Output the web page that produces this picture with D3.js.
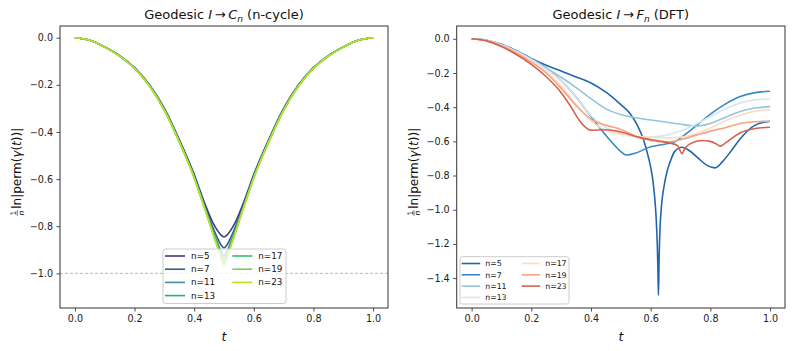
<!DOCTYPE html>
<html>
<head>
<meta charset="utf-8">
<script src="https://cdn.jsdelivr.net/npm/d3@7"></script>
<style>
  body { margin: 0; background: #fff; }
  svg { font-family: "DejaVu Sans", sans-serif; }
</style>
</head>
<body>
<svg id="chart" width="793" height="351"></svg>
<script>
// ---- data ----
const nLabels = ['n=5', 'n=7', 'n=11', 'n=13', 'n=17', 'n=19', 'n=23'];

const xTicks = [0, 0.2, 0.4, 0.6, 0.8, 1.0];
const cycleYTicks = [0, -0.2, -0.4, -0.6, -0.8, -1.0];
const dftYTicks = [0, -0.2, -0.4, -0.6, -0.8, -1.0, -1.2, -1.4];

// left panel: geodesic to the n-cycle
const cycleT = [0, 0.05, 0.1, 0.15, 0.2, 0.25, 0.3, 0.35, 0.4, 0.42, 0.44, 0.46, 0.48, 0.49, 0.5,
                0.51, 0.52, 0.54, 0.56, 0.58, 0.6, 0.65, 0.7, 0.75, 0.8, 0.85, 0.9, 0.95, 1.0];
const cycleN5  = [0, -0.011, -0.039, -0.076, -0.127, -0.2, -0.3, -0.432, -0.58, -0.65, -0.718, -0.778, -0.822, -0.838, -0.846,
                  -0.838, -0.822, -0.778, -0.718, -0.65, -0.58, -0.432, -0.3, -0.2, -0.127, -0.076, -0.039, -0.011, 0];
const cycleN7  = [0, -0.011, -0.039, -0.077, -0.128, -0.202, -0.303, -0.436, -0.586, -0.658, -0.73, -0.797, -0.855, -0.879, -0.892,
                  -0.879, -0.855, -0.797, -0.73, -0.658, -0.586, -0.436, -0.303, -0.202, -0.128, -0.077, -0.039, -0.011, 0];
const cycleN11 = [0, -0.011, -0.04, -0.077, -0.129, -0.203, -0.305, -0.439, -0.59, -0.662, -0.737, -0.81, -0.875, -0.906, -0.924,
                  -0.906, -0.875, -0.81, -0.737, -0.662, -0.59, -0.439, -0.305, -0.203, -0.129, -0.077, -0.04, -0.011, 0];
const cycleN13 = [0, -0.011, -0.04, -0.078, -0.129, -0.204, -0.306, -0.44, -0.592, -0.664, -0.739, -0.813, -0.882, -0.916, -0.936,
                  -0.916, -0.882, -0.813, -0.739, -0.664, -0.592, -0.44, -0.306, -0.204, -0.129, -0.078, -0.04, -0.011, 0];
const cycleN17 = [0, -0.011, -0.04, -0.078, -0.13, -0.204, -0.307, -0.441, -0.593, -0.666, -0.741, -0.817, -0.89, -0.928, -0.95,
                  -0.928, -0.89, -0.817, -0.741, -0.666, -0.593, -0.441, -0.307, -0.204, -0.13, -0.078, -0.04, -0.011, 0];
const cycleN19 = [0, -0.011, -0.04, -0.078, -0.13, -0.205, -0.308, -0.442, -0.594, -0.667, -0.742, -0.819, -0.894, -0.934, -0.958,
                  -0.934, -0.894, -0.819, -0.742, -0.667, -0.594, -0.442, -0.308, -0.205, -0.13, -0.078, -0.04, -0.011, 0];
const cycleN23 = [0, -0.011, -0.04, -0.078, -0.13, -0.205, -0.308, -0.442, -0.595, -0.668, -0.743, -0.82, -0.897, -0.94, -0.967,
                  -0.94, -0.897, -0.82, -0.743, -0.668, -0.595, -0.442, -0.308, -0.205, -0.13, -0.078, -0.04, -0.011, 0];
const cycleColors = ['#443a83', '#35608d', '#3f8f9f', '#27a98b', '#2fbf72', '#78d04f', '#bddf26'];

// right panel: geodesic to the DFT matrix
const dftT5 = [0, 0.05, 0.1, 0.15, 0.2, 0.25, 0.3, 0.35, 0.4, 0.45, 0.5, 0.53, 0.555, 0.576, 0.592, 0.605, 0.613, 0.618, 0.622, 0.624, 0.626,
               0.628, 0.631, 0.636, 0.645, 0.655, 0.665, 0.68, 0.705, 0.73, 0.76, 0.79, 0.816, 0.84, 0.87, 0.9, 0.95, 1.0];
const dftN5 = [0, -0.008, -0.032, -0.07, -0.115, -0.155, -0.188, -0.223, -0.258, -0.312, -0.385, -0.435, -0.505, -0.59, -0.69, -0.8, -0.92, -1.04, -1.2, -1.33, -1.5,
               -1.3, -1.12, -0.98, -0.86, -0.775, -0.72, -0.66, -0.634, -0.655, -0.7, -0.742, -0.755, -0.72, -0.655, -0.585, -0.505, -0.482];
const dftT7 = [0, 0.05, 0.1, 0.15, 0.2, 0.25, 0.3, 0.35, 0.4, 0.45, 0.48, 0.5, 0.52, 0.55, 0.6, 0.65, 0.68, 0.7, 0.75, 0.8, 0.85, 0.9, 0.95, 1.0];
const dftN7 = [0, -0.009, -0.035, -0.072, -0.118, -0.17, -0.245, -0.34, -0.455, -0.565, -0.625, -0.66, -0.68, -0.668, -0.632, -0.615, -0.603, -0.58, -0.512, -0.44, -0.382, -0.338, -0.315, -0.307];
const dftT = [0, 0.05, 0.1, 0.15, 0.2, 0.25, 0.3, 0.35, 0.4, 0.45, 0.5, 0.55, 0.6, 0.65, 0.7, 0.75, 0.8, 0.85, 0.9, 0.95, 1.0];
const dftN11 = [0, -0.009, -0.035, -0.072, -0.118, -0.17, -0.225, -0.285, -0.35, -0.41, -0.443, -0.462, -0.475, -0.487, -0.5, -0.51, -0.495, -0.46, -0.425, -0.405, -0.397];
const dftN13 = [0, -0.009, -0.036, -0.074, -0.122, -0.178, -0.245, -0.34, -0.45, -0.52, -0.557, -0.572, -0.575, -0.565, -0.54, -0.5, -0.455, -0.41, -0.375, -0.357, -0.352];
const dftN17 = [0, -0.01, -0.038, -0.078, -0.128, -0.19, -0.275, -0.385, -0.48, -0.535, -0.56, -0.57, -0.575, -0.58, -0.575, -0.555, -0.522, -0.48, -0.447, -0.423, -0.415];
const dftN19 = [0, -0.011, -0.04, -0.083, -0.137, -0.2, -0.29, -0.39, -0.47, -0.505, -0.53, -0.57, -0.595, -0.605, -0.59, -0.565, -0.54, -0.52, -0.495, -0.485, -0.482];
const dftT23 = [0, 0.05, 0.1, 0.15, 0.2, 0.25, 0.3, 0.33, 0.36, 0.38, 0.4, 0.45, 0.5, 0.565, 0.63, 0.67, 0.69, 0.705, 0.715, 0.735,
                0.77, 0.8, 0.82, 0.833, 0.85, 0.9, 0.95, 1.0];
const dftN23 = [0, -0.012, -0.045, -0.092, -0.15, -0.222, -0.315, -0.39, -0.475, -0.515, -0.535, -0.532, -0.545, -0.578, -0.598, -0.612, -0.625, -0.672, -0.64, -0.612,
                -0.595, -0.6, -0.615, -0.628, -0.61, -0.55, -0.525, -0.517];
const dftColors = ['#2166ac', '#3a89c4', '#92c5de', '#d4e6f1', '#fddbc7', '#f4a582', '#d6604d'];

const svg = d3.select('#chart');

function zip(ts, vs) { return ts.map((t, i) => ({ t, v: vs[i] })); }

function drawPanel(cfg) {
  const g = svg.append('g');
  const x = d3.scaleLinear().domain([-0.05, 1.05]).range([cfg.left, cfg.right]);
  const y = d3.scaleLinear().domain(cfg.yDomain).range([cfg.bottom, cfg.top]);

  // optional reference line
  if (cfg.hline !== undefined) {
    g.append('line')
      .attr('x1', cfg.left).attr('x2', cfg.right)
      .attr('y1', y(cfg.hline)).attr('y2', y(cfg.hline))
      .attr('stroke', '#a8a8a8').attr('stroke-width', 0.8)
      .attr('stroke-dasharray', '3,2');
  }

  // lines
  const line = d3.line().x(d => x(d.t)).y(d => y(d.v)).curve(d3.curveMonotoneX);
  cfg.series.forEach((s, i) => {
    g.append('path')
      .attr('d', line(zip(s.t, s.v)))
      .attr('fill', 'none')
      .attr('stroke', cfg.colors[i])
      .attr('stroke-width', 1.6)
      .attr('stroke-linejoin', 'round');
  });

  // axes
  const fmt = d3.format('.1f');
  const xAxis = g.append('g').attr('transform', `translate(0,${cfg.bottom})`)
    .call(d3.axisBottom(x).tickValues(xTicks).tickFormat(fmt).tickSize(3.5).tickPadding(3.5));
  const yAxis = g.append('g').attr('transform', `translate(${cfg.left},0)`)
    .call(d3.axisLeft(y).tickValues(cfg.yTicks).tickFormat(fmt).tickSize(3.5).tickPadding(3.5));
  [xAxis, yAxis].forEach(a => {
    a.select('.domain').remove();
    a.selectAll('line').attr('stroke', '#222').attr('stroke-width', 0.8);
    a.selectAll('text').attr('font-size', 9.6).attr('fill', '#222')
      .style('font-family', '"DejaVu Sans", sans-serif');
  });

  // frame
  g.append('rect')
    .attr('x', cfg.left).attr('y', cfg.top)
    .attr('width', cfg.right - cfg.left).attr('height', cfg.bottom - cfg.top)
    .attr('fill', 'none').attr('stroke', '#333').attr('stroke-width', 1);

  // title
  const cx = (cfg.left + cfg.right) / 2;
  const title = g.append('text').attr('x', cx).attr('y', 19)
    .attr('text-anchor', 'middle').attr('font-size', 13).attr('fill', '#111');
  title.append('tspan').text('Geodesic ');
  title.append('tspan').attr('font-style', 'italic').text('I');
  title.append('tspan').text('\u2009\u2192\u2009');
  title.append('tspan').attr('font-style', 'italic').text(cfg.target);
  title.append('tspan').attr('font-style', 'italic').attr('font-size', 9).attr('dy', 2.6).text('n');
  title.append('tspan').attr('dy', -2.6).text(' ' + cfg.suffix);

  // x label
  g.append('text').attr('x', cx).attr('y', 341)
    .attr('text-anchor', 'middle').attr('font-size', 12.5).attr('font-style', 'italic')
    .attr('fill', '#111').text('t');

  // y label: 1/n ln|perm(γ(t))|
  const cy = (cfg.top + cfg.bottom) / 2 + 5;
  const lab = g.append('g').attr('transform', `translate(${cfg.left - 39},${cy}) rotate(-90)`);
  const main = lab.append('text').attr('font-size', 12).attr('fill', '#111');
  main.append('tspan').text('ln|perm(');
  main.append('tspan').attr('font-style', 'italic').text('\u03b3');
  main.append('tspan').text('(');
  main.append('tspan').attr('font-style', 'italic').text('t');
  main.append('tspan').text('))|');
  const w = main.node().getComputedTextLength();
  const fracW = 6.5;
  const x0 = -(w + fracW + 1) / 2;
  main.attr('x', x0 + fracW + 1);
  const frac = lab.append('g').attr('transform', `translate(${x0 + fracW / 2},0)`);
  frac.append('text').attr('text-anchor', 'middle').attr('y', -5).attr('font-size', 7.5).text('1');
  frac.append('line').attr('x1', -2.8).attr('x2', 2.8).attr('y1', -3.7).attr('y2', -3.7)
    .attr('stroke', '#111').attr('stroke-width', 0.6);
  frac.append('text').attr('text-anchor', 'middle').attr('y', 2.6).attr('font-size', 7.5)
    .attr('font-style', 'italic').text('n');

  // legend
  const L = cfg.legend;
  const lg = g.append('g');
  lg.append('rect')
    .attr('x', L.x).attr('y', L.y).attr('width', L.w).attr('height', L.h)
    .attr('rx', 2.5).attr('fill', 'rgba(255,255,255,0.8)')
    .attr('stroke', '#cccccc').attr('stroke-width', 1);
  nLabels.forEach((name, i) => {
    const col = i < 4 ? 0 : 1;
    const row = i < 4 ? i : i - 4;
    const hx = L.colX[col];
    const ry = L.row0 + row * L.rowStep;
    lg.append('line')
      .attr('x1', hx).attr('x2', hx + L.handle)
      .attr('y1', ry).attr('y2', ry)
      .attr('stroke', cfg.colors[i]).attr('stroke-width', 1.6);
    lg.append('text')
      .attr('x', hx + L.handle + L.gap).attr('y', ry).attr('dy', '0.35em')
      .attr('font-size', L.font).attr('fill', '#111').text(name);
  });
}

drawPanel({
  left: 60, right: 388, top: 26, bottom: 308,
  yDomain: [-1.147, 0.0497],
  yTicks: cycleYTicks,
  hline: -1,
  target: 'C', suffix: '(n-cycle)',
  colors: cycleColors,
  series: [
    { t: cycleT, v: cycleN5 }, { t: cycleT, v: cycleN7 }, { t: cycleT, v: cycleN11 },
    { t: cycleT, v: cycleN13 }, { t: cycleT, v: cycleN17 }, { t: cycleT, v: cycleN19 },
    { t: cycleT, v: cycleN23 }
  ],
  legend: { x: 163, y: 249, w: 123, h: 54.5, row0: 256, rowStep: 13.2,
            colX: [165, 232.3], handle: 20, gap: 6, font: 8.8 }
});

drawPanel({
  left: 456.7, right: 785, top: 26, bottom: 308,
  yDomain: [-1.575, 0.075],
  yTicks: dftYTicks,
  target: 'F', suffix: '(DFT)',
  colors: dftColors,
  series: [
    { t: dftT5, v: dftN5 }, { t: dftT7, v: dftN7 }, { t: dftT, v: dftN11 },
    { t: dftT, v: dftN13 }, { t: dftT, v: dftN17 }, { t: dftT, v: dftN19 },
    { t: dftT23, v: dftN23 }
  ],
  legend: { x: 460, y: 256.7, w: 109, h: 47.3, row0: 263.5, rowStep: 11.3,
            colX: [461.7, 521.7], handle: 18.5, gap: 5, font: 7.8 }
});
</script>
</body>
</html>
